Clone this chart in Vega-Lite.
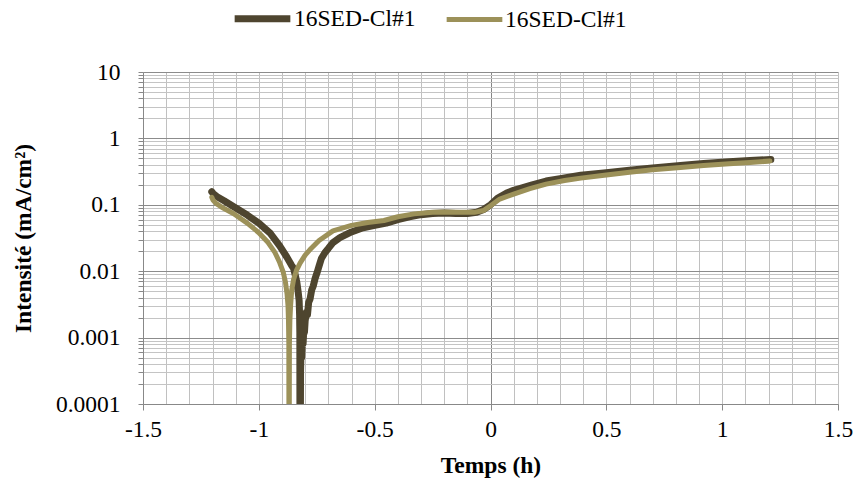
{
  "$schema": "https://vega.github.io/schema/vega-lite/v6.json",
  "width": 695,
  "height": 332,
  "autosize": "none",
  "padding": {"left": 143, "top": 72, "right": 19, "bottom": 77},
  "config": {
    "font": "Liberation Serif",
    "view": {"stroke": null},
    "axis": {"labelFont": "Liberation Serif", "titleFont": "Liberation Serif", "labelColor": "#000000", "titleColor": "#000000"}
  },
  "data": {
    "values": [
      {"t": -1.203, "i": 0.157, "s": "A"},
      {"t": -1.195, "i": 0.145, "s": "A"},
      {"t": -1.18, "i": 0.132, "s": "A"},
      {"t": -1.15, "i": 0.115, "s": "A"},
      {"t": -1.11, "i": 0.094, "s": "A"},
      {"t": -1.05, "i": 0.07, "s": "A"},
      {"t": -1.0, "i": 0.053, "s": "A"},
      {"t": -0.95, "i": 0.037, "s": "A"},
      {"t": -0.91, "i": 0.024, "s": "A"},
      {"t": -0.88, "i": 0.0165, "s": "A"},
      {"t": -0.86, "i": 0.0125, "s": "A"},
      {"t": -0.85, "i": 0.011, "s": "A"},
      {"t": -0.842, "i": 0.0085, "s": "A"},
      {"t": -0.836, "i": 0.0068, "s": "A"},
      {"t": -0.83, "i": 0.0048, "s": "A"},
      {"t": -0.826, "i": 0.0036, "s": "A"},
      {"t": -0.824, "i": 0.0022, "s": "A"},
      {"t": -0.823, "i": 0.0012, "s": "A"},
      {"t": -0.822, "i": 0.000001, "s": "A"},
      {"t": -0.82, "i": 0.0003, "s": "A"},
      {"t": -0.818, "i": 0.0006, "s": "A"},
      {"t": -0.815, "i": 0.0005, "s": "A"},
      {"t": -0.812, "i": 0.0009, "s": "A"},
      {"t": -0.809, "i": 0.0008, "s": "A"},
      {"t": -0.806, "i": 0.0013, "s": "A"},
      {"t": -0.803, "i": 0.0012, "s": "A"},
      {"t": -0.8, "i": 0.0018, "s": "A"},
      {"t": -0.795, "i": 0.0024, "s": "A"},
      {"t": -0.79, "i": 0.0022, "s": "A"},
      {"t": -0.785, "i": 0.0034, "s": "A"},
      {"t": -0.779, "i": 0.0038, "s": "A"},
      {"t": -0.772, "i": 0.0052, "s": "A"},
      {"t": -0.765, "i": 0.006, "s": "A"},
      {"t": -0.757, "i": 0.0078, "s": "A"},
      {"t": -0.749, "i": 0.0094, "s": "A"},
      {"t": -0.74, "i": 0.012, "s": "A"},
      {"t": -0.73, "i": 0.0155, "s": "A"},
      {"t": -0.715, "i": 0.019, "s": "A"},
      {"t": -0.7, "i": 0.022, "s": "A"},
      {"t": -0.68, "i": 0.027, "s": "A"},
      {"t": -0.65, "i": 0.032, "s": "A"},
      {"t": -0.6, "i": 0.039, "s": "A"},
      {"t": -0.55, "i": 0.045, "s": "A"},
      {"t": -0.5, "i": 0.049, "s": "A"},
      {"t": -0.45, "i": 0.053, "s": "A"},
      {"t": -0.4, "i": 0.06, "s": "A"},
      {"t": -0.35, "i": 0.066, "s": "A"},
      {"t": -0.3, "i": 0.071, "s": "A"},
      {"t": -0.25, "i": 0.074, "s": "A"},
      {"t": -0.2, "i": 0.075, "s": "A"},
      {"t": -0.15, "i": 0.074, "s": "A"},
      {"t": -0.1, "i": 0.074, "s": "A"},
      {"t": -0.06, "i": 0.077, "s": "A"},
      {"t": -0.03, "i": 0.085, "s": "A"},
      {"t": 0.0, "i": 0.1, "s": "A"},
      {"t": 0.03, "i": 0.125, "s": "A"},
      {"t": 0.07, "i": 0.15, "s": "A"},
      {"t": 0.1, "i": 0.165, "s": "A"},
      {"t": 0.18, "i": 0.2, "s": "A"},
      {"t": 0.24, "i": 0.228, "s": "A"},
      {"t": 0.3, "i": 0.248, "s": "A"},
      {"t": 0.39, "i": 0.278, "s": "A"},
      {"t": 0.5, "i": 0.305, "s": "A"},
      {"t": 0.6, "i": 0.333, "s": "A"},
      {"t": 0.7, "i": 0.36, "s": "A"},
      {"t": 0.82, "i": 0.392, "s": "A"},
      {"t": 0.92, "i": 0.42, "s": "A"},
      {"t": 1.03, "i": 0.445, "s": "A"},
      {"t": 1.12, "i": 0.465, "s": "A"},
      {"t": 1.21, "i": 0.48, "s": "A"},
      {"t": -1.203, "i": 0.13, "s": "B"},
      {"t": -1.198, "i": 0.118, "s": "B"},
      {"t": -1.185, "i": 0.105, "s": "B"},
      {"t": -1.16, "i": 0.092, "s": "B"},
      {"t": -1.11, "i": 0.074, "s": "B"},
      {"t": -1.05, "i": 0.053, "s": "B"},
      {"t": -1.0, "i": 0.038, "s": "B"},
      {"t": -0.96, "i": 0.027, "s": "B"},
      {"t": -0.93, "i": 0.019, "s": "B"},
      {"t": -0.91, "i": 0.0135, "s": "B"},
      {"t": -0.895, "i": 0.0098, "s": "B"},
      {"t": -0.885, "i": 0.0068, "s": "B"},
      {"t": -0.878, "i": 0.0045, "s": "B"},
      {"t": -0.874, "i": 0.003, "s": "B"},
      {"t": -0.872, "i": 0.0018, "s": "B"},
      {"t": -0.8705, "i": 0.0008, "s": "B"},
      {"t": -0.8695, "i": 0.000001, "s": "B"},
      {"t": -0.868, "i": 0.0008, "s": "B"},
      {"t": -0.866, "i": 0.0018, "s": "B"},
      {"t": -0.863, "i": 0.003, "s": "B"},
      {"t": -0.858, "i": 0.0052, "s": "B"},
      {"t": -0.85, "i": 0.0075, "s": "B"},
      {"t": -0.838, "i": 0.0102, "s": "B"},
      {"t": -0.822, "i": 0.0132, "s": "B"},
      {"t": -0.8, "i": 0.0175, "s": "B"},
      {"t": -0.78, "i": 0.021, "s": "B"},
      {"t": -0.74, "i": 0.029, "s": "B"},
      {"t": -0.68, "i": 0.0405, "s": "B"},
      {"t": -0.6, "i": 0.049, "s": "B"},
      {"t": -0.53, "i": 0.054, "s": "B"},
      {"t": -0.46, "i": 0.058, "s": "B"},
      {"t": -0.4, "i": 0.066, "s": "B"},
      {"t": -0.33, "i": 0.073, "s": "B"},
      {"t": -0.25, "i": 0.0775, "s": "B"},
      {"t": -0.19, "i": 0.078, "s": "B"},
      {"t": -0.13, "i": 0.077, "s": "B"},
      {"t": -0.07, "i": 0.077, "s": "B"},
      {"t": -0.03, "i": 0.082, "s": "B"},
      {"t": 0.0, "i": 0.097, "s": "B"},
      {"t": 0.04, "i": 0.122, "s": "B"},
      {"t": 0.1, "i": 0.145, "s": "B"},
      {"t": 0.17, "i": 0.175, "s": "B"},
      {"t": 0.24, "i": 0.205, "s": "B"},
      {"t": 0.32, "i": 0.232, "s": "B"},
      {"t": 0.39, "i": 0.252, "s": "B"},
      {"t": 0.5, "i": 0.282, "s": "B"},
      {"t": 0.6, "i": 0.31, "s": "B"},
      {"t": 0.7, "i": 0.337, "s": "B"},
      {"t": 0.82, "i": 0.365, "s": "B"},
      {"t": 0.92, "i": 0.39, "s": "B"},
      {"t": 1.03, "i": 0.415, "s": "B"},
      {"t": 1.12, "i": 0.435, "s": "B"},
      {"t": 1.206, "i": 0.455, "s": "B"}
    ]
  },
  "mark": {"type": "line", "clip": true, "strokeCap": "round", "strokeJoin": "round"},
  "encoding": {
    "x": {
      "field": "t", "type": "quantitative",
      "scale": {"domain": [-1.5, 1.5], "nice": false, "zero": false},
      "axis": {
        "title": "Temps (h)",
        "titleFontSize": 23.5, "titleFontWeight": "bold", "titlePadding": 13,
        "values": [-1.5,-1.4,-1.3,-1.2,-1.1,-1.0,-0.9,-0.8,-0.7,-0.6,-0.5,-0.4,-0.3,-0.2,-0.1,0,0.1,0.2,0.3,0.4,0.5,0.6,0.7,0.8,0.9,1.0,1.1,1.2,1.3,1.4,1.5],
        "labelExpr": "abs(datum.value*2 - round(datum.value*2)) < 0.000001 ? toString(datum.value) : ''",
        "labelFontSize": 23.5, "labelPadding": 7, "labelFlush": false, "labelOverlap": false,
        "grid": true, "gridWidth": 1,
        "gridColor": {"condition": {"test": "abs(datum.value) < 0.000001", "value": "#868686"}, "value": "#C0C0C0"},
        "domainColor": "#888888", "tickColor": "#888888", "tickSize": 6,
        "tickOpacity": {"condition": {"test": "abs(datum.value*2 - round(datum.value*2)) < 0.000001", "value": 1}, "value": 0}
      }
    },
    "y": {
      "field": "i", "type": "quantitative",
      "scale": {"type": "log", "domain": [0.0001, 10], "nice": false},
      "axis": {
        "title": "Intensité (mA/cm²)",
        "titleFontSize": 23.5, "titleFontWeight": "bold", "titlePadding": 20,
        "values": [0.0001,0.0002,0.0003,0.0004,0.0005,0.0006,0.0007,0.0008,0.0009,0.001,0.002,0.003,0.004,0.005,0.006,0.007,0.008,0.009,0.01,0.02,0.03,0.04,0.05,0.06,0.07,0.08,0.09,0.1,0.2,0.3,0.4,0.5,0.6,0.7,0.8,0.9,1,2,3,4,5,6,7,8,9,10],
        "labelExpr": "abs(log(datum.value)/LN10 - round(log(datum.value)/LN10)) < 0.000001 ? toString(datum.value) : ''",
        "labelFontSize": 23.5, "labelPadding": 18, "labelFlush": false, "labelOverlap": false,
        "grid": true, "gridWidth": 1,
        "gridColor": {"condition": {"test": "abs(log(datum.value)/LN10 - round(log(datum.value)/LN10)) < 0.000001", "value": "#8C8C8C"}, "value": "#C4C4C4"},
        "domainColor": "#888888", "tickColor": "#888888", "tickSize": 5
      }
    },
    "color": {
      "field": "s", "type": "nominal",
      "scale": {"domain": ["A", "B"], "range": ["#4E452F", "#9C9159"]},
      "legend": {
        "title": null, "orient": "none", "direction": "horizontal",
        "legendX": 88, "legendY": -85,
        "labelExpr": "'16SED-Cl#1'",
        "labelFontSize": 23.5, "labelFont": "Liberation Serif", "labelColor": "#000000",
        "symbolType": "stroke", "symbolSize": 3100, "symbolStrokeWidth": 6,
        "labelOffset": 0, "columnPadding": 20
      }
    },
    "strokeWidth": {
      "field": "s", "type": "nominal",
      "scale": {"domain": ["A", "B"], "range": [7, 5]},
      "legend": null
    }
  }
}
